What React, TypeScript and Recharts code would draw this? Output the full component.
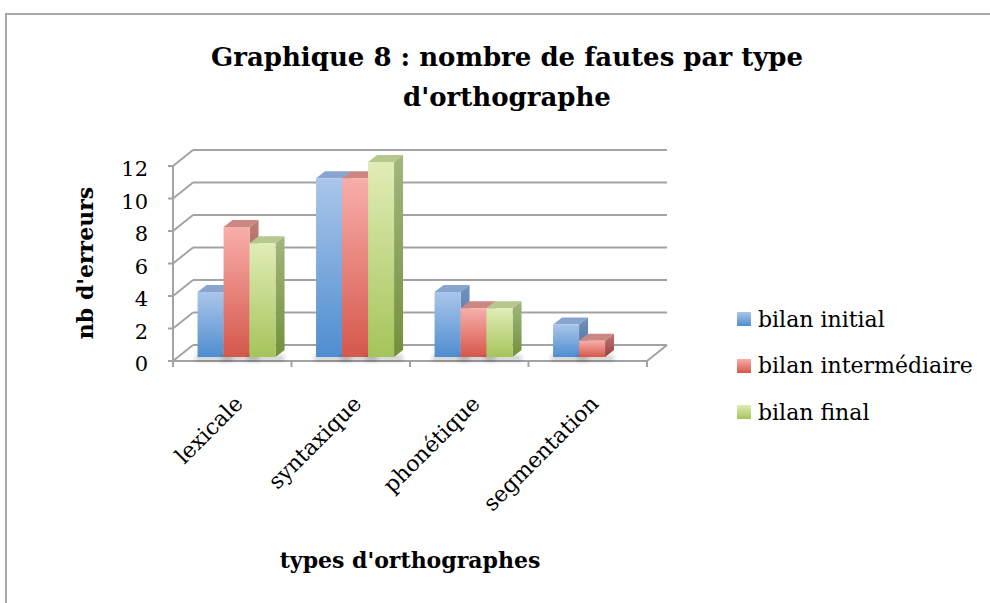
import React from "react";
import { BarChart, Bar, XAxis, YAxis, CartesianGrid, ReferenceArea } from "recharts";

const categories = ["lexicale", "syntaxique", "phonétique", "segmentation"];
const bilanInitial = [4, 11, 4, 2];
const bilanIntermediaire = [8, 11, 3, 1];
const bilanFinal = [7, 12, 3, 0];
const yTicks = [0, 2, 4, 6, 8, 10, 12];
const seriesNames = ["bilan initial", "bilan intermédiaire", "bilan final"];

const data = categories.map((type, i) => ({
  type,
  initial: bilanInitial[i],
  inter: bilanIntermediaire[i],
  final: bilanFinal[i],
}));

// pseudo 3D offsets (front plane, back wall, bar depth)
const FRONT = { dx: -5, dy: 4 };
const BACK = { dx: 15, dy: -12 };
const DEPTH = { dx: 9, dy: -7 };
const GRID = "#a3a3a3";
const FONT = "'DejaVu Serif', serif";

const TONES = [
  { id: "b", top: "#aac6ea", bottom: "#4f8dd0", sideA: "#7192bd", sideB: "#4a6d9c", lid: "#87a5cf" },
  { id: "r", top: "#f8aeaa", bottom: "#d5574b", sideA: "#bd7c78", sideB: "#9a3d36", lid: "#cd8783" },
  { id: "g", top: "#e1ecb6", bottom: "#a5c45a", sideA: "#a2b67e", sideB: "#73903c", lid: "#b4c98b" },
];

function Bar3D(props: any) {
  const { x, y, width: w, height: h, tone } = props;
  if (!h || h <= 0) return null;
  const { dx, dy } = DEPTH;
  return (
    <g>
      <defs>
        <linearGradient id={`front-${tone.id}`} x1="0" y1="0" x2="0" y2="1">
          <stop offset="0%" stopColor={tone.top} />
          <stop offset="100%" stopColor={tone.bottom} />
        </linearGradient>
        <linearGradient id={`side-${tone.id}`} x1="0" y1="0" x2="0" y2="1">
          <stop offset="0%" stopColor={tone.sideA} />
          <stop offset="100%" stopColor={tone.sideB} />
        </linearGradient>
        <filter id="soft" x="-50%" y="-50%" width="200%" height="200%">
          <feGaussianBlur stdDeviation="2" />
        </filter>
      </defs>
      <rect x={x - 2} y={y + h - 2} width={w + dx + 2} height={6} fill="#000" opacity={0.18} filter="url(#soft)" />
      <polygon
        points={`${x},${y} ${x + w},${y} ${x + w + dx},${y + dy} ${x + dx},${y + dy}`}
        fill={tone.lid}
      />
      <polygon
        points={`${x + w},${y} ${x + w + dx},${y + dy} ${x + w + dx},${y + h + dy} ${x + w},${y + h}`}
        fill={`url(#side-${tone.id})`}
      />
      <rect x={x} y={y} width={w} height={h} fill={`url(#front-${tone.id})`} />
    </g>
  );
}

function GridLine(p: any) {
  const { x1, y1, x2 } = p;
  return (
    <g key={p.key}>
      <line x1={x1 + BACK.dx} y1={y1 + BACK.dy} x2={x2 + BACK.dx} y2={y1 + BACK.dy} stroke={GRID} strokeWidth={2} />
      <line x1={x1 + FRONT.dx} y1={y1 + FRONT.dy} x2={x1 + BACK.dx} y2={y1 + BACK.dy} stroke={GRID} strokeWidth={2} />
      <line x1={x1 + FRONT.dx - 5} y1={y1 + FRONT.dy} x2={x1 + FRONT.dx} y2={y1 + FRONT.dy} stroke={GRID} strokeWidth={2} />
    </g>
  );
}

function Frame(p: any) {
  const { x, y, width, height } = p;
  const fx = x + FRONT.dx;
  const fb = y + height + FRONT.dy;
  return (
    <g>
      <line x1={fx} y1={y + FRONT.dy} x2={fx} y2={fb} stroke={GRID} strokeWidth={2} />
      <line x1={fx} y1={fb} x2={fx + width} y2={fb} stroke={GRID} strokeWidth={2} />
      <line x1={fx + width} y1={fb} x2={x + width + BACK.dx} y2={y + height + BACK.dy} stroke={GRID} strokeWidth={2} />
    </g>
  );
}

function YTick(p: any) {
  return (
    <text x={148} y={p.y + FRONT.dy + 3} textAnchor="end" dominantBaseline="central" fontFamily={FONT} fontSize={21} fill="#000">
      {p.payload.value}
    </text>
  );
}

function XTick(p: any) {
  const { x, payload, index } = p;
  const half = payload.offset ?? 59;
  const base = 357 + FRONT.dy;
  const left = x - half + FRONT.dx;
  const right = x + half + FRONT.dx;
  const ax = x + 7;
  const ay = base + 44;
  return (
    <g>
      <line x1={left} y1={base} x2={left} y2={base + 6} stroke={GRID} strokeWidth={2} />
      {index === categories.length - 1 && (
        <line x1={right} y1={base} x2={right} y2={base + 6} stroke={GRID} strokeWidth={2} />
      )}
      <text
        x={ax}
        y={ay}
        transform={`rotate(-45 ${ax} ${ay})`}
        textAnchor="end"
        fontFamily={FONT}
        fontSize={22}
        fill="#000"
      >
        {payload.value}
      </text>
    </g>
  );
}

export default function App() {
  const keys = ["initial", "inter", "final"];
  return (
    <div style={{ position: "absolute", left: 0, top: 0, width: 990, height: 603, background: "#fff", fontFamily: FONT }}>
      <div style={{ position: "absolute", left: 5, top: 13, right: 0, bottom: 0, borderTop: "2px solid #a8a8a8", borderLeft: "2px solid #a8a8a8" }} />
      <div style={{ position: "absolute", left: 160, width: 694, top: 37, textAlign: "center", fontWeight: "bold", fontSize: 26, lineHeight: "40px" }}>
        Graphique 8 : nombre de fautes par type
        <br />
        d'orthographe
      </div>
      <BarChart
        width={990}
        height={603}
        data={data}
        margin={{ top: 162, right: 338, bottom: 216, left: 138 }}
        barCategoryGap="16.5%"
        barGap={0}
      >
        <CartesianGrid vertical={false} horizontal={GridLine} />
        <ReferenceArea y1={0} y2={12} shape={Frame} ifOverflow="visible" />
        <XAxis dataKey="type" height={30} axisLine={false} tickLine={false} tick={XTick} interval={0} />
        <YAxis width={40} domain={[0, 12]} ticks={yTicks} axisLine={false} tickLine={false} tick={YTick} />
        {keys.map((k, i) => (
          <Bar
            key={k}
            dataKey={k}
            name={seriesNames[i]}
            isAnimationActive={false}
            shape={(p: any) => <Bar3D {...p} tone={TONES[i]} />}
          />
        ))}
      </BarChart>
      <div style={{ position: "absolute", left: 85, top: 263, width: 0, height: 0 }}>
        <div style={{ position: "absolute", transform: "translate(-50%, -50%) rotate(-90deg)", whiteSpace: "nowrap", fontWeight: "bold", fontSize: 22 }}>
          nb d'erreurs
        </div>
      </div>
      <div style={{ position: "absolute", left: 410, top: 560, width: 0, height: 0 }}>
        <div style={{ position: "absolute", transform: "translate(-50%, -50%)", whiteSpace: "nowrap", fontWeight: "bold", fontSize: 22 }}>
          types d'orthographes
        </div>
      </div>
      <div style={{ position: "absolute", left: 737, top: 296 }}>
        {seriesNames.map((name, i) => (
          <div key={name} style={{ display: "flex", alignItems: "center", height: 46.5, fontSize: 22 }}>
            <span
              style={{
                display: "inline-block",
                width: 14,
                height: 14,
                marginRight: 7,
                background: `linear-gradient(${TONES[i].top}, ${TONES[i].bottom})`,
              }}
            />
            {name}
          </div>
        ))}
      </div>
    </div>
  );
}
